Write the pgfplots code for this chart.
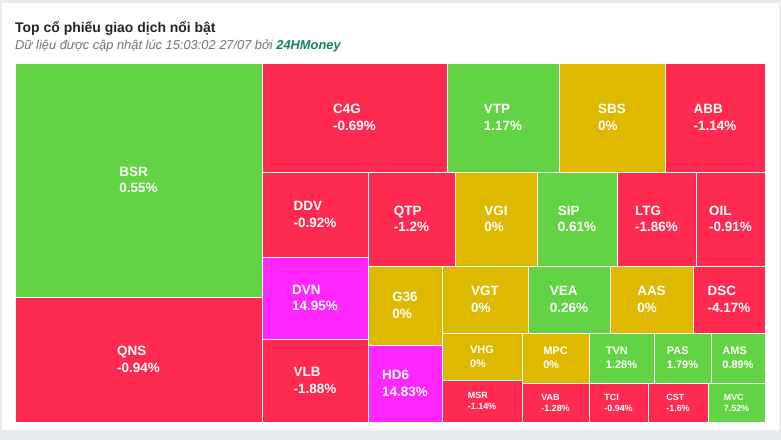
\documentclass[border=0pt]{standalone}
\usepackage{pgfplots}
\pgfplotsset{compat=1.18}
\usepackage{fontspec}
\setmainfont{Liberation Sans}
\definecolor{tgreen}{RGB}{98,211,69}
\definecolor{tred}{RGB}{255,42,80}
\definecolor{tyel}{RGB}{222,185,0}
\definecolor{tmag}{RGB}{255,38,255}
\definecolor{bggray}{RGB}{233,236,239}
\definecolor{titlec}{RGB}{33,37,41}
\definecolor{subc}{RGB}{108,117,125}
\definecolor{brand}{RGB}{22,128,96}
\newcommand{\fA}{\fontsize{13.5}{16.5}\selectfont\bfseries}
\newcommand{\fB}{\fontsize{11}{14}\selectfont\bfseries}
\newcommand{\fC}{\fontsize{9}{11}\selectfont\bfseries}
% x1 y1 x2 y2 colour name change font
\newcommand{\tile}[8]{%
  \addplot[fill=#5, draw=white, line width=0.8pt] coordinates {(#1,#2) (#3,#2) (#3,#4) (#1,#4)} --cycle;
  \node[text=white, font=#8, align=left, inner sep=0pt] at (axis cs:{(#1+#3)/2},{(#2+#4)/2}) {#6\\#7};
}
\begin{document}
\begin{tikzpicture}
\begin{axis}[
    width=781bp, height=440bp, scale only axis,
    xmin=0, xmax=781, ymin=0, ymax=440,
    y dir=reverse, hide axis, clip=false
]
\addplot[fill=bggray, draw=none] coordinates {(0,0) (781,0) (781,440) (0,440)} --cycle;
\addplot[fill=white, draw=none] coordinates {(2,3) (779,3) (779,430) (2,430)} --cycle;

\node[anchor=base west, inner sep=0pt, text=titlec, font=\fontsize{14}{16}\selectfont\bfseries]
  at (axis cs:15,33) {Top cổ phiếu giao dịch nổi bật};
\node[anchor=base west, inner sep=0pt, text=subc, font=\fontsize{12.9}{15}\selectfont\itshape]
  at (axis cs:15,50) {Dữ liệu được cập nhật lúc 15:03:02 27/07 bởi \textcolor{brand}{\bfseries 24HMoney}};

\tile{15}{63}{262}{297}{tgreen}{BSR}{0.55\%}{\fA}
\tile{15}{297}{262}{422}{tred}{QNS}{-0.94\%}{\fA}
\tile{262}{63}{447}{172}{tred}{C4G}{-0.69\%}{\fA}
\tile{447}{63}{559}{172}{tgreen}{VTP}{1.17\%}{\fA}
\tile{559}{63}{665}{172}{tyel}{SBS}{0\%}{\fA}
\tile{665}{63}{765}{172}{tred}{ABB}{-1.14\%}{\fA}
\tile{262}{172}{368}{257}{tred}{DDV}{-0.92\%}{\fA}
\tile{368}{172}{455}{266}{tred}{QTP}{-1.2\%}{\fA}
\tile{455}{172}{537}{266}{tyel}{VGI}{0\%}{\fA}
\tile{537}{172}{617}{266}{tgreen}{SIP}{0.61\%}{\fA}
\tile{617}{172}{696}{266}{tred}{LTG}{-1.86\%}{\fA}
\tile{696}{172}{765}{266}{tred}{OIL}{-0.91\%}{\fA}
\tile{262}{257}{368}{339}{tmag}{DVN}{14.95\%}{\fA}
\tile{262}{339}{368}{422}{tred}{VLB}{-1.88\%}{\fA}
\tile{368}{266}{442}{345}{tyel}{G36}{0\%}{\fA}
\tile{368}{345}{442}{422}{tmag}{HD6}{14.83\%}{\fA}
\tile{442}{266}{528}{333}{tyel}{VGT}{0\%}{\fA}
\tile{528}{266}{610}{333}{tgreen}{VEA}{0.26\%}{\fA}
\tile{610}{266}{693}{333}{tyel}{AAS}{0\%}{\fA}
\tile{693}{266}{765}{333}{tred}{DSC}{-4.17\%}{\fA}
\tile{442}{333}{522}{380}{tyel}{VHG}{0\%}{\fB}
\tile{522}{333}{589}{383}{tyel}{MPC}{0\%}{\fB}
\tile{589}{333}{654}{383}{tgreen}{TVN}{1.28\%}{\fB}
\tile{654}{333}{711}{383}{tgreen}{PAS}{1.79\%}{\fB}
\tile{711}{333}{765}{383}{tgreen}{AMS}{0.89\%}{\fB}
\tile{442}{380}{522}{422}{tred}{MSR}{-1.14\%}{\fC}
\tile{522}{383}{589}{422}{tred}{VAB}{-1.28\%}{\fC}
\tile{589}{383}{648}{422}{tred}{TCI}{-0.94\%}{\fC}
\tile{648}{383}{708}{422}{tred}{CST}{-1.6\%}{\fC}
\tile{708}{383}{765}{422}{tgreen}{MVC}{7.52\%}{\fC}
\end{axis}
\end{tikzpicture}
\end{document}
